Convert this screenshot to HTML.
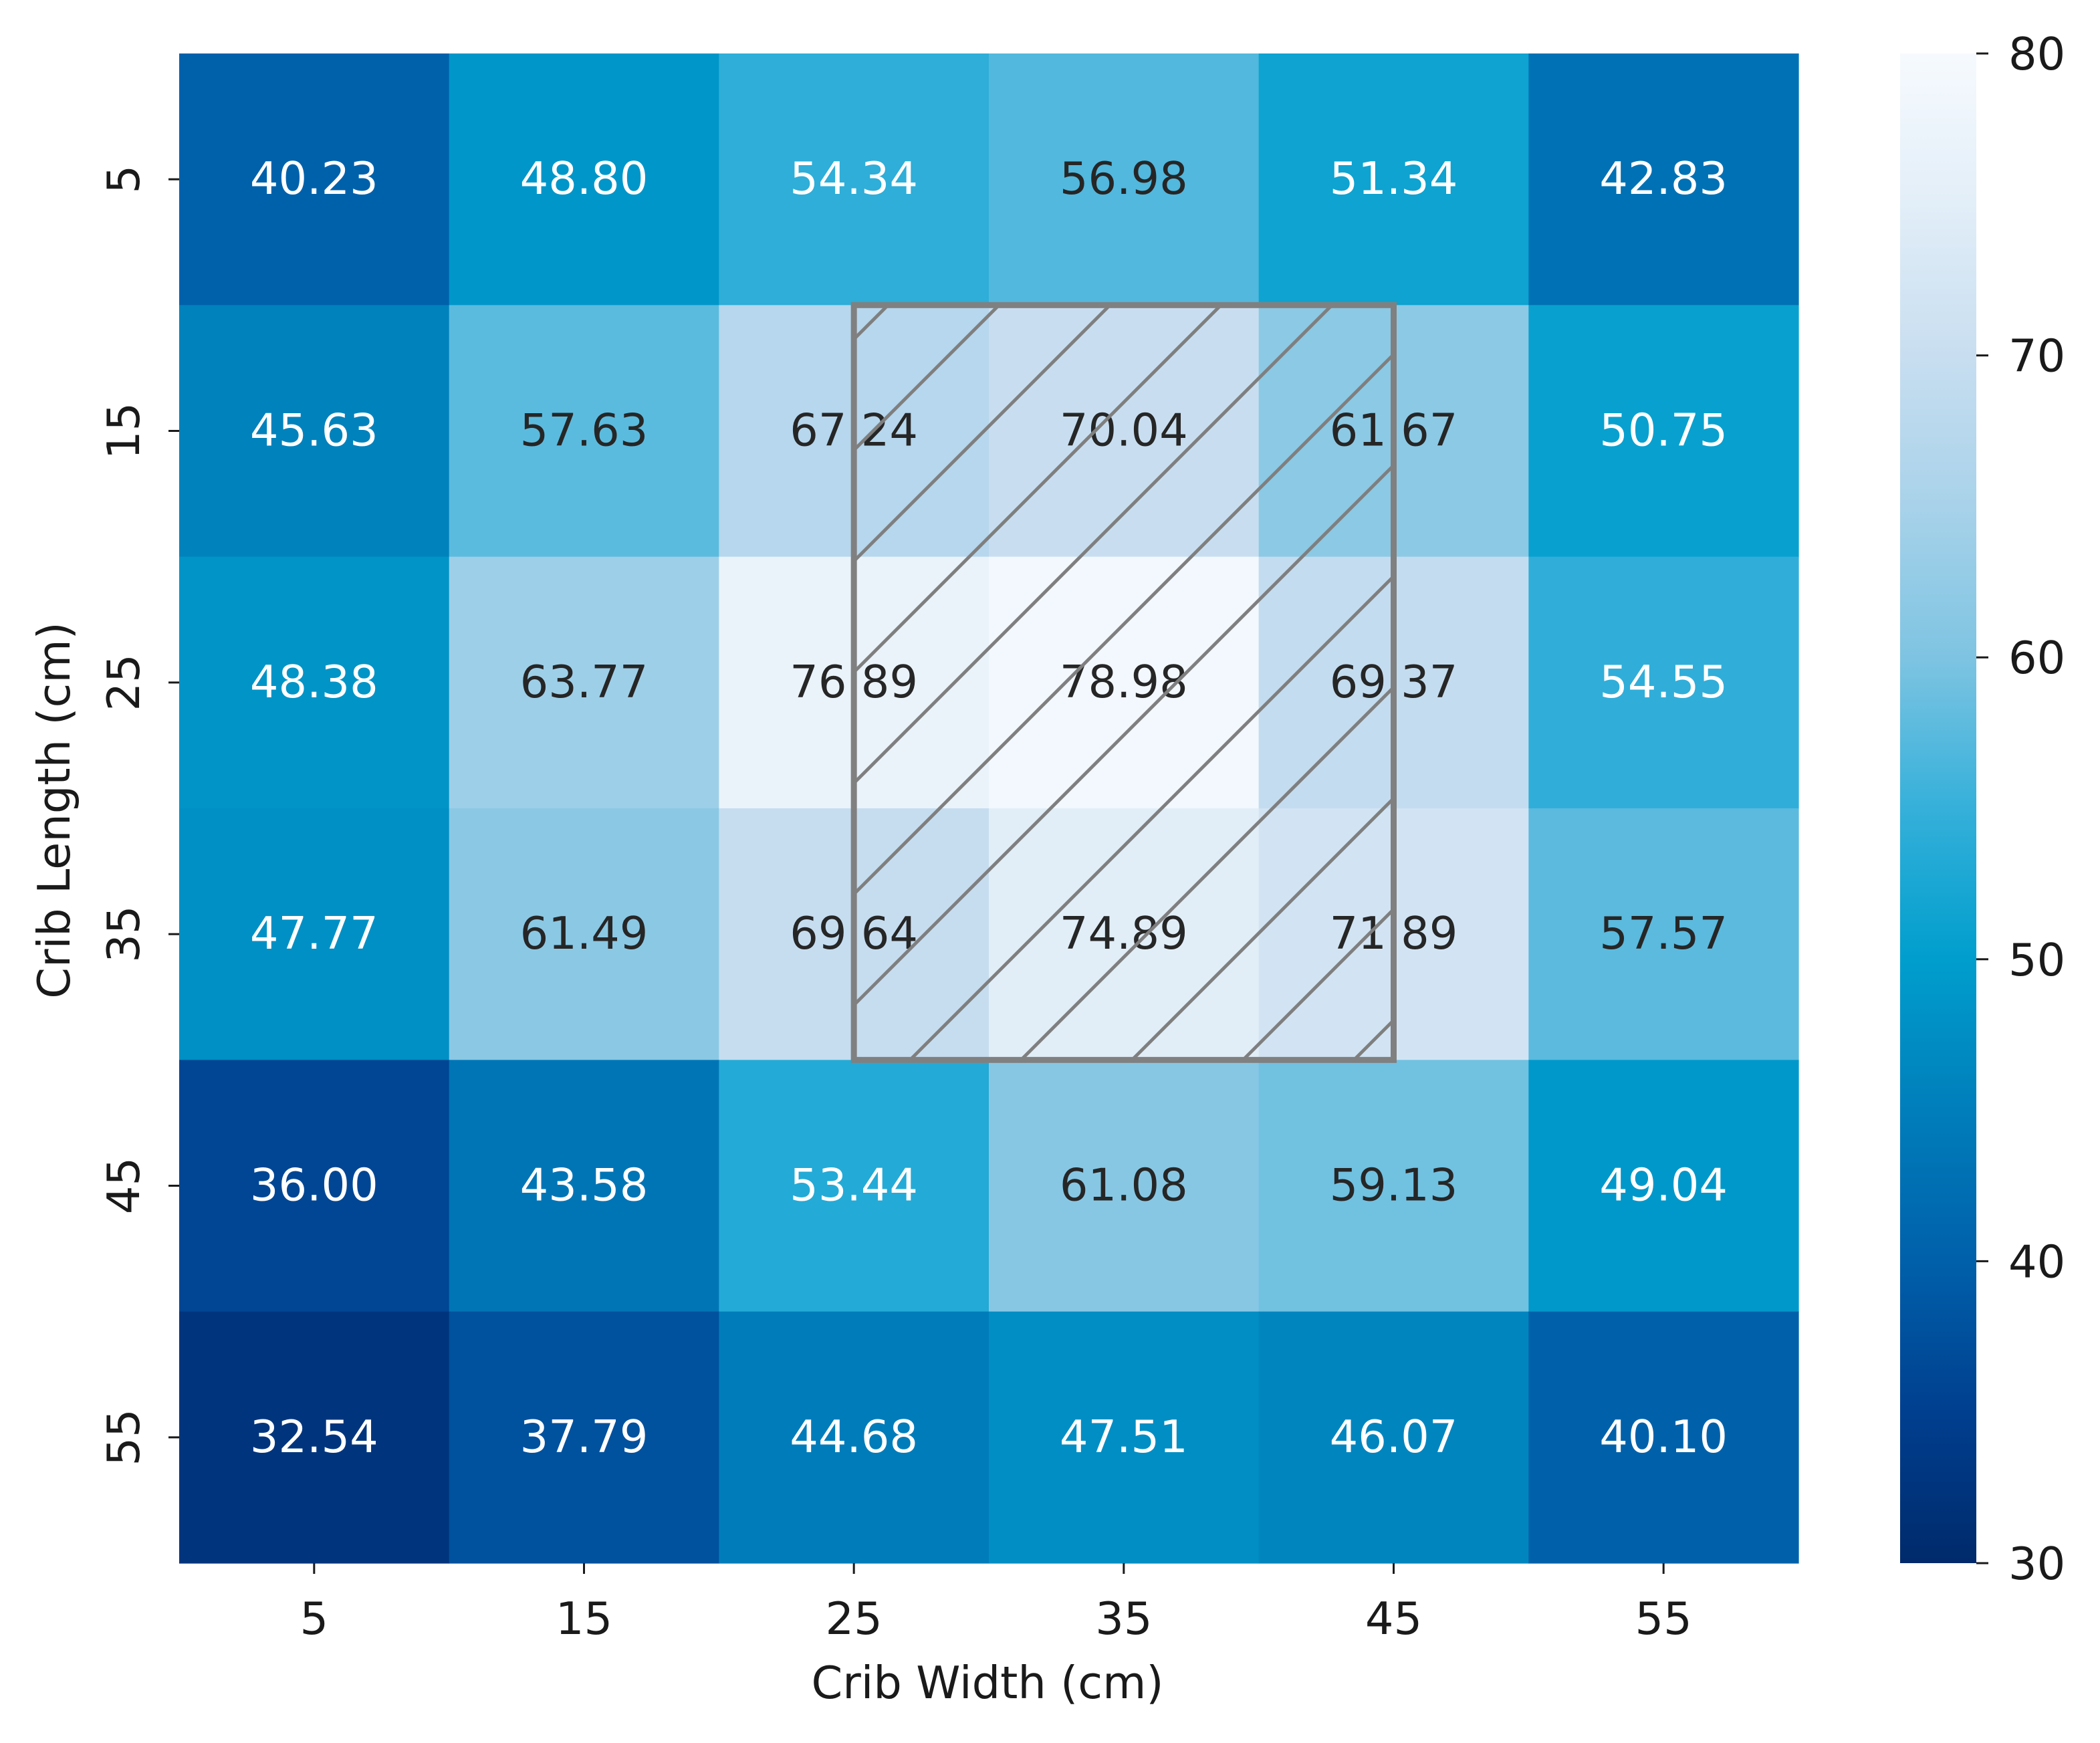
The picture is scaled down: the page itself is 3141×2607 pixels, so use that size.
<!DOCTYPE html>
<html><head><meta charset="utf-8">
<style>
html,body{margin:0;padding:0;background:#fff;}
svg text{font-family:"DejaVu Sans","Liberation Sans",sans-serif;}
</style></head>
<body>
<svg id="chart" width="3141" height="2602" viewBox="0 0 3141 2602" xmlns="http://www.w3.org/2000/svg">
<defs>
<linearGradient id="cbgrad" x1="0" y1="1" x2="0" y2="0">
<stop offset="0" stop-color="#002a6b"/><stop offset="0.1" stop-color="#003f8f"/>
<stop offset="0.2" stop-color="#0060aa"/><stop offset="0.3" stop-color="#007ebb"/>
<stop offset="0.4" stop-color="#009ecd"/><stop offset="0.5" stop-color="#35b0da"/>
<stop offset="0.6" stop-color="#7ec4e2"/><stop offset="0.7" stop-color="#a8d2ea"/>
<stop offset="0.8" stop-color="#c8def0"/><stop offset="0.9" stop-color="#e2eef8"/>
<stop offset="1" stop-color="#f6fafe"/>
</linearGradient>
</defs>
<g id="cells"></g>
<g id="hatch"></g>
<g id="axes"></g>
<rect x="2842" y="80" width="114" height="2258" fill="url(#cbgrad)"/>
<g id="cbar"></g>
<text x="1477" y="2540" font-size="67" text-anchor="middle" fill="#1a1a1a">Crib Width (cm)</text>
<text transform="translate(104,1212) rotate(-90)" font-size="67" text-anchor="middle" fill="#1a1a1a">Crib Length (cm)</text>
</svg>
<script>
const xCats = ["5","15","25","35","45","55"];
const yCats = ["5","15","25","35","45","55"];
const row5  = [40.23,48.80,54.34,56.98,51.34,42.83];
const row15 = [45.63,57.63,67.24,70.04,61.67,50.75];
const row25 = [48.38,63.77,76.89,78.98,69.37,54.55];
const row35 = [47.77,61.49,69.64,74.89,71.89,57.57];
const row45 = [36.00,43.58,53.44,61.08,59.13,49.04];
const row55 = [32.54,37.79,44.68,47.51,46.07,40.10];
const rows = [row5,row15,row25,row35,row45,row55];
const cbTicks = [30,40,50,60,70,80];
const vmin = 30, vmax = 80;
const highlightCols = [2,4];
const highlightRows = [1,4];

const NS = "http://www.w3.org/2000/svg";
const X0 = 268, X1 = 2690, Y0 = 80, Y1 = 2338;
const cw = (X1-X0)/xCats.length, ch = (Y1-Y0)/yCats.length;
const xPos = i => X0 + i*cw;
const yPos = j => Y0 + j*ch;
const cbY = v => Y1 - (v-vmin)/(vmax-vmin)*(Y1-Y0);

const stops = [[30,[0,42,107]],[35,[0,63,143]],[40,[0,96,170]],[45,[0,126,187]],[50,[0,158,205]],[55,[53,176,218]],[60,[126,196,226]],[65,[168,210,234]],[70,[200,222,240]],[75,[226,238,248]],[80,[246,250,254]]];
function color(v){
  v = Math.max(vmin, Math.min(vmax, v));
  for(let k=0;k<stops.length-1;k++){
    const [a,ca]=stops[k],[b,cb]=stops[k+1];
    if(v<=b){const t=(v-a)/(b-a);const c=ca.map((x,i)=>Math.round(x+(cb[i]-x)*t));return `rgb(${c[0]},${c[1]},${c[2]})`;}
  }
  return "rgb(246,250,254)";
}
function mk(tag, attrs, parent){const e=document.createElementNS(NS,tag);for(const k in attrs)e.setAttribute(k,attrs[k]);parent.appendChild(e);return e;}

const cells = document.getElementById("cells");
rows.forEach((r,j)=>{
  r.forEach((v,i)=>{
    const rc = mk("rect",{x:xPos(i),y:yPos(j),width:cw+0.6,height:ch+0.6,fill:color(v)},cells);
    
    
    const t = mk("text",{x:xPos(i)+cw/2,y:yPos(j)+ch/2+22,"font-size":67,"text-anchor":"middle",fill:v>56?"#262626":"#ffffff"},cells);
    t.textContent = v.toFixed(2);
    
    
  });
});

const hg = document.getElementById("hatch");
const hx0 = xPos(highlightCols[0])+cw/2, hx1 = xPos(highlightCols[1])+cw/2;
const hy0 = yPos(highlightRows[0]), hy1 = yPos(highlightRows[1]);
const defs = document.querySelector("defs");
const cp = mk("clipPath",{id:"hclip"},defs);
mk("rect",{x:hx0,y:hy0,width:hx1-hx0,height:hy1-hy0},cp);
const lines = mk("g",{"clip-path":"url(#hclip)"},hg);
for(let s=-1400; s<1000; s+=166){
  const ln = mk("line",{x1:hx0+s-10,y1:hy1,x2:hx0+s-10+(hy1-hy0),y2:hy0,stroke:"#7f7f7f","stroke-width":5},lines);
  
  
}
const br = mk("rect",{x:hx0,y:hy0,width:hx1-hx0,height:hy1-hy0,fill:"none",stroke:"#808080","stroke-width":9},hg);



const ax = document.getElementById("axes");
xCats.forEach((c,i)=>{
  const x = xPos(i)+cw/2;
  const tk = mk("line",{x1:x,y1:Y1,x2:x,y2:Y1+16,stroke:"#1a1a1a","stroke-width":3},ax);
  
  
  const t = mk("text",{x:x,y:Y1+106,"font-size":67,"text-anchor":"middle",fill:"#1a1a1a"},ax);
  t.textContent = c;
  
  
});
yCats.forEach((c,j)=>{
  const y = yPos(j)+ch/2;
  const tk = mk("line",{x1:X0-16,y1:y,x2:X0,y2:y,stroke:"#1a1a1a","stroke-width":3},ax);
  
  
  const t = mk("text",{transform:`translate(208,${y}) rotate(-90)`,"font-size":67,"text-anchor":"middle",fill:"#1a1a1a"},ax);
  t.textContent = c;
  
  
});

const cb = document.getElementById("cbar");
cbTicks.forEach(v=>{
  const y = cbY(v);
  const tk = mk("line",{x1:2956,y1:y,x2:2974,y2:y,stroke:"#1a1a1a","stroke-width":3},cb);
  
  
  const t = mk("text",{x:3004,y:y+24,"font-size":67,fill:"#1a1a1a"},cb);
  t.textContent = v;
  
  
});
</script>
</body></html>
